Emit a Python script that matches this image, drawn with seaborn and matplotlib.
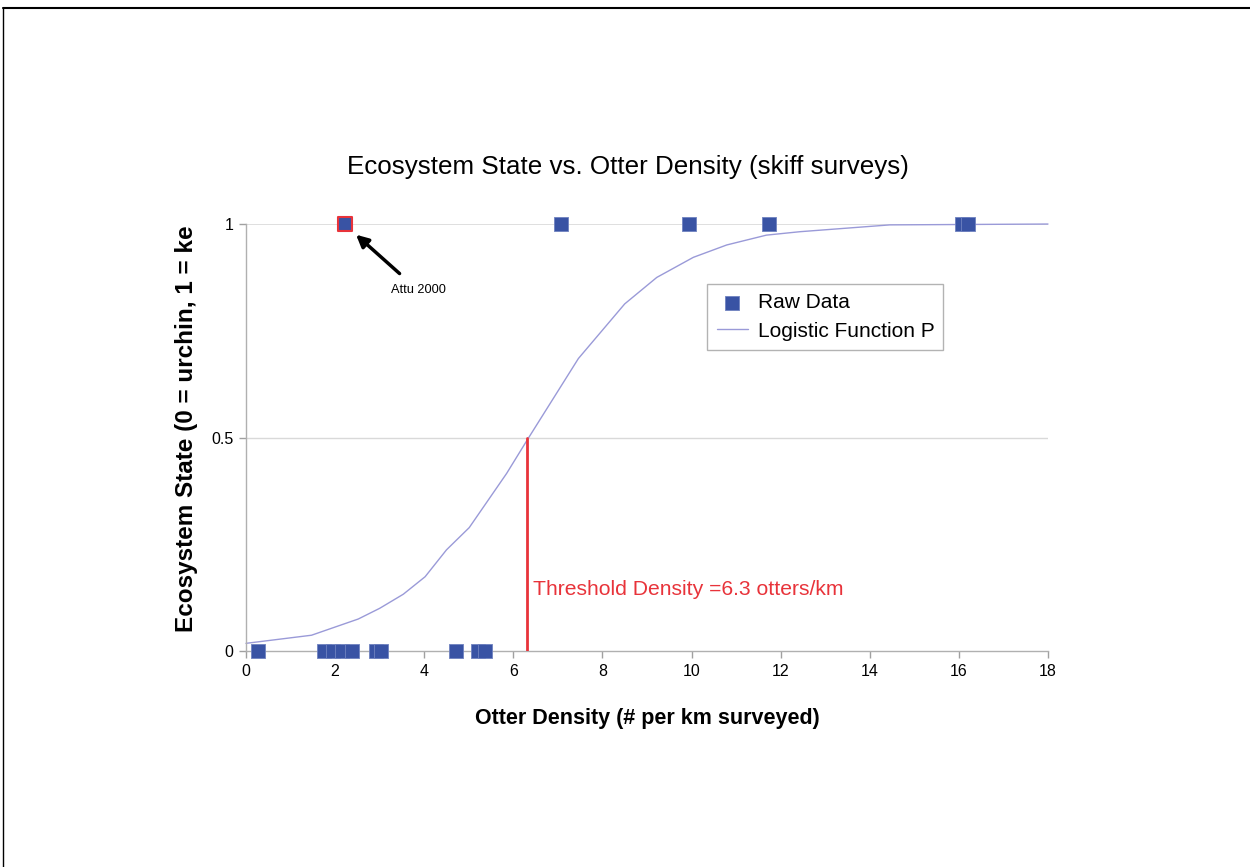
import matplotlib
matplotlib.use("Agg")
import matplotlib.pyplot as plt
import seaborn as sns
import pandas as pd
from matplotlib.lines import Line2D

# ---- data ----
raw_x = [0.27, 1.76, 1.95, 2.15, 2.37, 2.91, 3.04, 4.72, 5.2, 5.37,
         7.06, 9.95, 11.73, 16.08, 16.21]
raw_y = [0, 0, 0, 0, 0, 0, 0, 0, 0, 0,
         1, 1, 1, 1, 1]
attu_x = [2.22]
attu_y = [1]
curve_x = [0, 1.47, 2.52, 3.0, 3.53, 4.02, 4.5, 5.01, 5.44, 5.85, 6.31,
           7.46, 8.5, 9.22, 10.04, 10.79, 11.68, 12.43, 14.45, 18]
curve_y = [0.018, 0.037, 0.075, 0.10, 0.133, 0.174, 0.237, 0.289, 0.354,
           0.416, 0.494, 0.685, 0.813, 0.875, 0.922, 0.951, 0.974, 0.982,
           0.998, 1.0]
threshold = 6.3
xticks = [0, 2, 4, 6, 8, 10, 12, 14, 16, 18]
yticks = [0, 0.5, 1]
ytick_labels = ["0", "0.5", "1"]

raw_df = pd.DataFrame({"x": raw_x, "y": raw_y})
attu_df = pd.DataFrame({"x": attu_x, "y": attu_y})
curve_df = pd.DataFrame({"x": curve_x, "y": curve_y})

sns.set_theme(style="white")
plt.rcParams["font.family"] = ["Liberation Sans", "DejaVu Sans"]
plt.rcParams["text.color"] = "black"
plt.rcParams["xtick.color"] = "black"
plt.rcParams["ytick.color"] = "black"
plt.rcParams["axes.labelcolor"] = "black"

fig = plt.figure(figsize=(12.5, 8.67), dpi=100)
ax = fig.add_axes([0.1968, 0.2491, 0.6416, 0.4925])

blue = "#3953A4"
curve_col = "#9a9ad8"
red = "#E8333A"

ax.axhline(0.5, color="#d9d9d9", lw=1, zorder=0)
ax.axhline(1.0, color="#d9d9d9", lw=1.2, zorder=0)

sns.lineplot(data=curve_df, x="x", y="y", ax=ax, color=curve_col, lw=1,
             label="Logistic Function P", zorder=2, clip_on=False)
sns.scatterplot(data=raw_df, x="x", y="y", ax=ax, marker="s", s=88,
                color=blue, edgecolor="#6f82c0", linewidth=0.6,
                label="Raw Data", zorder=4, clip_on=False)
sns.scatterplot(data=attu_df, x="x", y="y", ax=ax, marker="s", s=105,
                color=blue, edgecolor=red, linewidth=1.5,
                zorder=5, clip_on=False, legend=False)

ax.plot([threshold, threshold], [0, 0.5], color=red, lw=2, zorder=3)
ax.text(6.45, 0.145, "Threshold Density =6.3 otters/km", color=red,
        fontsize=15.2, va="center", ha="left")

ax.annotate("Attu 2000", xy=(2.47, 0.975), xytext=(3.25, 0.845),
            fontsize=9.2, ha="left", va="center",
            arrowprops=dict(arrowstyle="-|>", color="black", lw=2.5,
                            mutation_scale=18, shrinkA=8, shrinkB=0))

ax.set_xlim(0, 18)
ax.set_ylim(0, 1)
ax.set_xticks(xticks)
ax.set_xticklabels([str(t) for t in xticks], fontsize=11.5)
ax.set_yticks(yticks)
ax.set_yticklabels(ytick_labels, fontsize=11.5)
ax.tick_params(axis="both", which="both", direction="out", length=5,
               width=1, color="#a0a0a0", pad=4, bottom=True, left=True,
               labelcolor="black")

for s in ["top", "right"]:
    ax.spines[s].set_visible(False)
for s in ["left", "bottom"]:
    ax.spines[s].set_color("#b0b0b0")
    ax.spines[s].set_linewidth(1)

ax.set_xlabel("Otter Density (# per km surveyed)", fontsize=15.5,
              fontweight="bold", labelpad=21)
ax.set_ylabel("")
fig.text(0.149, 0.506, "Ecosystem State (0 = urchin, 1 = ke",
         rotation=90, fontsize=17.5, fontweight="bold", va="center",
         ha="center")

ax.set_title("Ecosystem State vs. Otter Density (skiff surveys)",
             fontsize=18.7, pad=36, x=0.476)

handles, labels = ax.get_legend_handles_labels()
order = [labels.index("Raw Data"), labels.index("Logistic Function P")]
leg = ax.legend([handles[i] for i in order], [labels[i] for i in order],
                loc="lower left", bbox_to_anchor=(0.575, 0.705, 0.294, 0.161),
                mode="expand", frameon=True, fontsize=15, handlelength=1.5,
                borderpad=0.45, labelspacing=0.45, handletextpad=0.5,
                borderaxespad=0, fancybox=False)
leg.get_frame().set_edgecolor("#a0a0a0")
leg.get_frame().set_linewidth(1)

# figure border (top and left)
fig.add_artist(Line2D([0.0025, 1.0], [0.991, 0.991], transform=fig.transFigure,
                      color="black", lw=1.5))
fig.add_artist(Line2D([0.0025, 0.0025], [0.0, 0.991], transform=fig.transFigure,
                      color="black", lw=1))

fig.savefig("out.png", dpi=100)
